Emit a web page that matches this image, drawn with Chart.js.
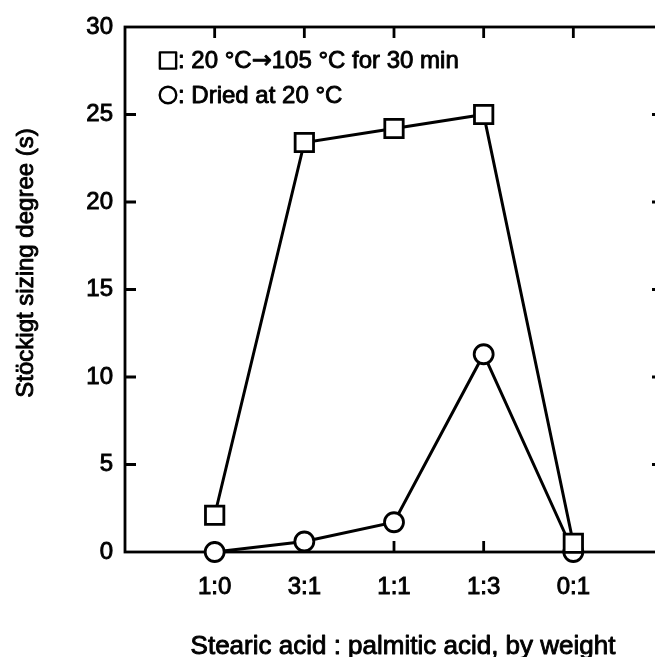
<!DOCTYPE html>
<html><head><meta charset="utf-8">
<script src="https://cdn.jsdelivr.net/npm/chart.js@4/dist/chart.umd.min.js"></script>
<style>
html,body{margin:0;padding:0;background:#fff;overflow:hidden;width:655px;height:657px}
#wrap{position:relative;width:680px;height:657px}
canvas{display:block}
</style></head>
<body><div id="wrap"><canvas id="c" width="680" height="657" style="width:680px;height:657px"></canvas></div>
<script>
const categories = ['1:0', '3:1', '1:1', '1:3', '0:1'];
const heated = [2.1, 23.4, 24.2, 25.0, 0.5];
const dried = [0, 0.6, 1.7, 11.3, 0];
const seriesLabels = ['20 °C\u2192105 °C for 30 min', 'Dried at 20 °C'];
const yTicks = [0, 5, 10, 15, 20, 25, 30];
const xTitle = 'Stearic acid : palmitic acid, by weight';
const yTitle = 'Stöckigt sizing degree (s)';

const FONT = "'Liberation Sans', Arial, Helvetica, sans-serif";
const STROKE = 0.9;
const toPts = arr => arr.map((v, i) => ({x: i + 1, y: v}));

function heavyText(ctx, t, x, y) {
  ctx.strokeText(t, x, y);
  ctx.fillText(t, x, y);
}
// draws text, switching to DejaVu Sans for the arrow glyph
function heavyMixed(ctx, t, x, y, size) {
  const parts = t.split(/(\u2192)/);
  let cx = x;
  parts.forEach(p => {
    if (!p) return;
    ctx.font = (p === '\u2192' ? size + "px 'DejaVu Sans'" : size + 'px ' + FONT);
    heavyText(ctx, p, cx, y);
    cx += ctx.measureText(p).width;
  });
}

const framePlugin = {
  id: 'frame',
  beforeDatasetsDraw(chart) {
    const {ctx, chartArea: a, scales: {x, y}} = chart;
    ctx.save();
    ctx.strokeStyle = '#000';
    ctx.lineWidth = 2.8;
    ctx.strokeRect(a.left, a.top, a.right - a.left, a.bottom - a.top);
    const tl = 11;
    ctx.beginPath();
    yTicks.forEach(v => {
      if (v === 0 || v === 30) return;
      const py = y.getPixelForValue(v);
      ctx.moveTo(a.left, py); ctx.lineTo(a.left + tl, py);
      ctx.moveTo(a.right, py); ctx.lineTo(a.right - tl, py);
    });
    categories.forEach((c, i) => {
      const px = x.getPixelForValue(i + 1);
      ctx.moveTo(px, a.top); ctx.lineTo(px, a.top + tl);
      ctx.moveTo(px, a.bottom); ctx.lineTo(px, a.bottom - tl);
    });
    ctx.stroke();
    ctx.restore();
  },
  afterDraw(chart) {
    const {ctx} = chart;
    ctx.save();
    ctx.fillStyle = '#000';
    ctx.strokeStyle = '#000';
    ctx.lineWidth = STROKE;
    ctx.lineJoin = 'round';
    // axis titles
    ctx.font = '26px ' + FONT;
    ctx.textAlign = 'center';
    ctx.textBaseline = 'alphabetic';
    heavyText(ctx, xTitle, 403, 654);
    ctx.save();
    ctx.translate(33, 263);
    ctx.rotate(-Math.PI / 2);
    ctx.font = '24px ' + FONT;
    heavyText(ctx, yTitle, 0, 0);
    ctx.restore();
    // legend
    ctx.textAlign = 'left';
    ctx.textBaseline = 'middle';
    const rows = [{ds: chart.data.datasets[0], y: 60.5}, {ds: chart.data.datasets[1], y: 95}];
    rows.forEach(r => {
      ctx.strokeStyle = '#000';
      ctx.fillStyle = '#fff';
      ctx.lineWidth = 2.4;
      Chart.helpers.drawPoint(ctx, {pointStyle: r.ds.pointStyle, radius: r.ds.pointStyle === 'rect' ? 11.5 : 8.3, borderWidth: 2.4}, 168, r.y);
      ctx.fillStyle = '#000';
      ctx.lineWidth = STROKE;
      heavyMixed(ctx, ': ' + r.ds.label, 178, r.y + 1, 24);
    });
    ctx.restore();
  }
};

const tickFont = {family: FONT, size: 24};

new Chart(document.getElementById('c'), {
  type: 'line',
  data: {
    datasets: [
      {label: seriesLabels[0], data: toPts(heated), pointStyle: 'rect', pointRadius: 13, pointHoverRadius: 13,
       borderColor: '#000', backgroundColor: '#fff', pointBackgroundColor: '#fff', pointBorderColor: '#000',
       borderWidth: 3, pointBorderWidth: 2.8, tension: 0, clip: false},
      {label: seriesLabels[1], data: toPts(dried), pointStyle: 'circle', pointRadius: 9.5, pointHoverRadius: 9.5,
       borderColor: '#000', backgroundColor: '#fff', pointBackgroundColor: '#fff', pointBorderColor: '#000',
       borderWidth: 3, pointBorderWidth: 2.8, tension: 0, clip: false}
    ]
  },
  options: {
    responsive: false,
    animation: false,
    devicePixelRatio: 1,
    events: [],
    layout: {padding: {top: 27, right: 17, left: 0, bottom: 0}},
    plugins: {legend: {display: false}, tooltip: {enabled: false}},
    scales: {
      x: {
        type: 'linear', min: 0, max: 6,
        grid: {display: false, drawTicks: false},
        border: {display: false},
        afterBuildTicks: s => { s.ticks = categories.map((c, i) => ({value: i + 1})); },
        afterFit: s => { s.height = 657 - 552; },
        ticks: {
          autoSkip: false, maxRotation: 0, padding: 21, color: '#000',
          textStrokeColor: '#000', textStrokeWidth: STROKE,
          font: tickFont,
          callback: v => categories[v - 1] ?? ''
        }
      },
      y: {
        type: 'linear', min: 0, max: 30,
        grid: {display: false, drawTicks: false},
        border: {display: false},
        afterBuildTicks: s => { s.ticks = yTicks.map(v => ({value: v})); },
        afterFit: s => { s.width = 125; },
        ticks: {padding: 12, color: '#000', textStrokeColor: '#000', textStrokeWidth: STROKE, font: tickFont}
      }
    }
  },
  plugins: [framePlugin]
});
</script>
</body></html>
